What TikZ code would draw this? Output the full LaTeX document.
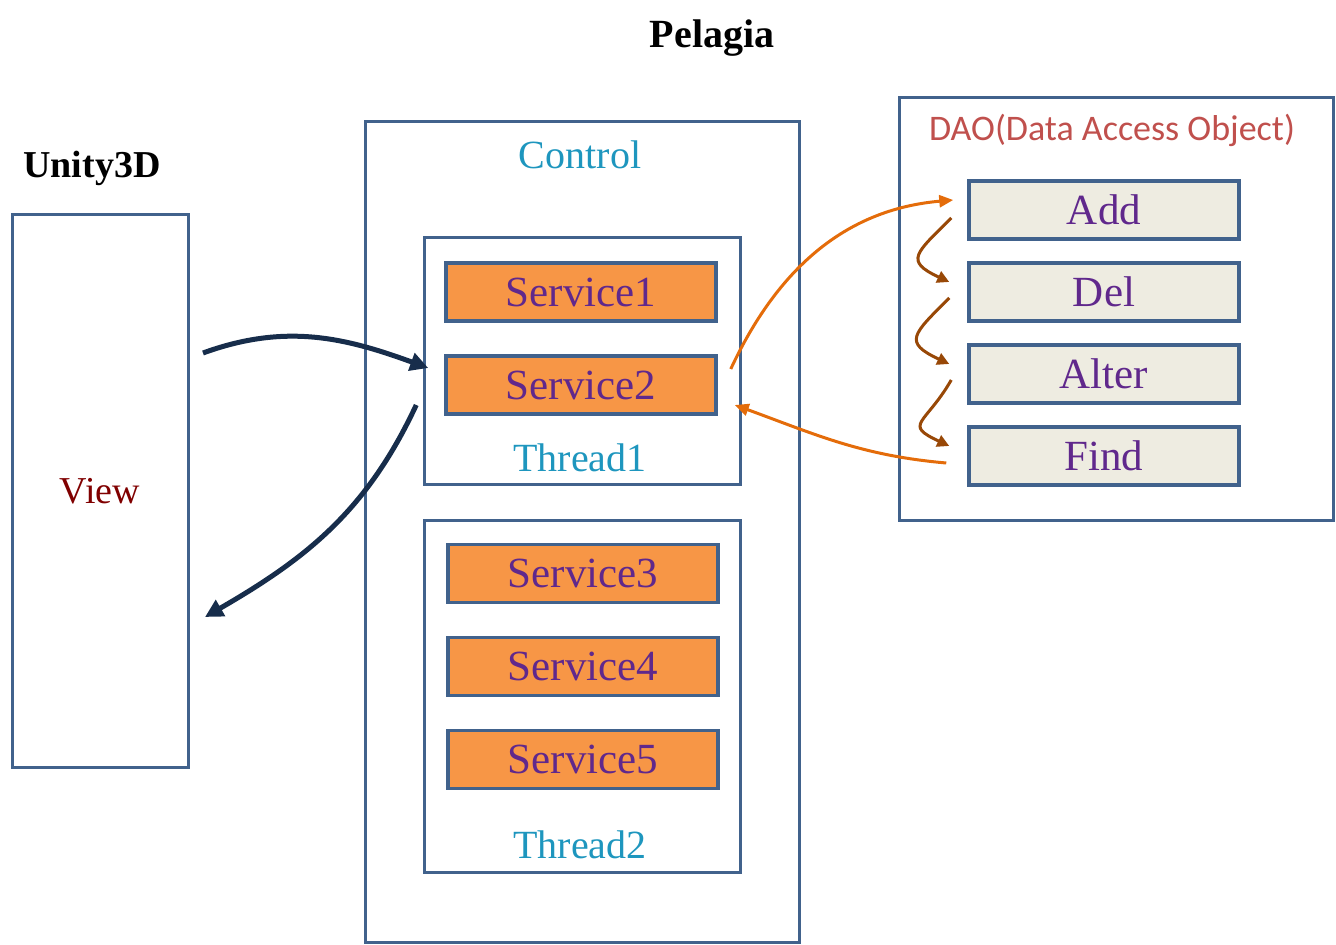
\documentclass[tikz,border=0pt]{standalone}
\usepackage{fontspec}
\setmainfont{Liberation Serif}
\newfontfamily\daofont{Carlito}
\usepackage{tikz}
\usetikzlibrary{positioning,arrows.meta}
\definecolor{boxblue}{RGB}{65,98,140}
\definecolor{srvorange}{RGB}{247,150,70}
\definecolor{daogray}{RGB}{238,236,225}
\definecolor{srvpurple}{RGB}{96,40,140}
\definecolor{ctrlteal}{RGB}{30,150,190}
\definecolor{viewred}{RGB}{128,0,0}
\definecolor{daored}{RGB}{192,80,77}
\definecolor{arrnavy}{RGB}{23,45,75}
\definecolor{arrorange}{RGB}{228,108,10}
\definecolor{arrbrown}{RGB}{152,72,7}

\begin{document}
\begin{tikzpicture}[x=0.5pt, y=-0.5pt, node distance=46.5pt,
    frame/.style={draw=boxblue, line width=1.5pt, inner sep=0pt},
    service/.style={draw=boxblue, fill=srvorange, line width=1.75pt, minimum width=135pt,
      minimum height=29pt, inner sep=0pt, text=srvpurple, font=\fontsize{21.5}{24}\selectfont},
    daoitem/.style={service, fill=daogray},
    heading/.style={inner sep=0pt, font=\fontsize{20}{24}\selectfont},
    flow/.style={-{Triangle[length=9pt,width=9pt]}, line width=2.5pt, draw=arrnavy},
    call/.style={-{Triangle[length=7pt,width=6pt]}, line width=1.5pt, draw=arrorange},
    chain/.style={-{Triangle[length=6pt,width=6pt]}, line width=1.5pt, draw=arrbrown}]
    \useasboundingbox (0,0) rectangle (1336,945);

    \node[heading, font=\bfseries\fontsize{20}{24}\selectfont] (Title) at (712,38) {Pelagia};
    \node[heading, font=\bfseries\fontsize{19}{24}\selectfont] (Unity) at (92,168) {Unity3D};
    \node[frame, minimum width=88pt, minimum height=276pt, text=viewred,
      font=\fontsize{19}{24}\selectfont] (View) at (100,491) {View};

    \node[frame, minimum width=217pt, minimum height=410pt] (Control) at (582,532) {};
    \node[heading, text=ctrlteal] (ControlName) at (580,155) {Control};
    \node[frame, minimum width=158pt, minimum height=123.5pt] (T1) at (582,361.5) {};
    \node[frame, minimum width=158pt, minimum height=176pt] (T2) at (582,696) {};
    \node[service] (S1) at (581,292) {Service1};
    \node[service] (S2) [below of=S1] {Service2};
    \node[heading, text=ctrlteal] (T1Name) at (580,458) {Thread1};
    \node[service] (S3) at (583,573.5) {Service3};
    \node[service] (S4) [below of=S3] {Service4};
    \node[service] (S5) [below of=S4] {Service5};
    \node[heading, text=ctrlteal] (T2Name) at (580,845) {Thread2};

    \node[frame, minimum width=217pt, minimum height=211pt] (DAO) at (1116,309) {};
    \node[heading, text=daored, font=\daofont\fontsize{18}{20}\selectfont] (DAOName) at (1112,130) {DAO(Data Access Object)};
    \node[daoitem] (Add) at (1104,210) {Add};
    \node[daoitem] (Del) [below of=Add, node distance=41pt] {Del};
    \node[daoitem] (Alter) [below of=Del, node distance=41pt] {Alter};
    \node[daoitem] (Find) [below of=Alter, node distance=41pt] {Find};

    \coordinate (ViewOut) at (203,353);
    \coordinate (ViewIn) at (205,617);

    \path (ViewOut) edge [flow, out=20, in=160] ([shift={(-8pt,8.5pt)}]S2.west)
          ([shift={(-14pt,-10pt)}]S2.west) edge [flow, out=245, in=30] (ViewIn)
          ([shift={(6.5pt,8pt)}]S2.east) edge [call, out=65, in=185] ([shift={(-7pt,5pt)}]Add.west)
          ([shift={(-10.5pt,-3.5pt)}]Find.west) edge [call, out=175, in=-20] ([shift={(8.5pt,-10pt)}]S2.east)
          ([shift={(-8pt,-4pt)}]Add.west) edge [chain, out=225, in=155, looseness=2] ([shift={(-9pt,5pt)}]Del.west)
          ([shift={(-9pt,-3pt)}]Del.west) edge [chain, out=225, in=155, looseness=2] ([shift={(-9pt,5pt)}]Alter.west)
          ([shift={(-8pt,-3pt)}]Alter.west) edge [chain, out=240, in=155, looseness=2] ([shift={(-9pt,5pt)}]Find.west);
\end{tikzpicture}
\end{document}
